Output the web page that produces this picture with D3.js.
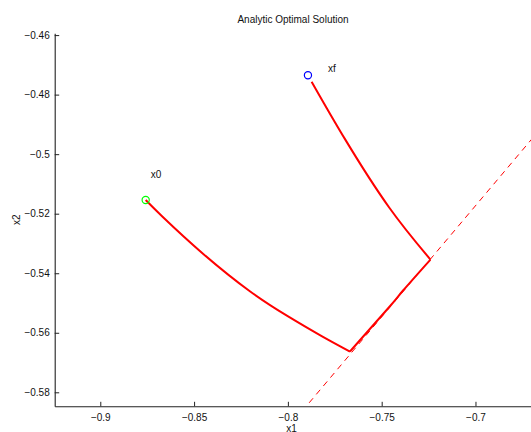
<!DOCTYPE html>
<html><head><meta charset="utf-8">
<script src="https://cdn.jsdelivr.net/npm/d3@7"></script>
<style>
html,body{margin:0;padding:0;background:#fff;overflow:hidden;}
text{font-family:"Liberation Sans",Arial,Helvetica,sans-serif;}
</style></head>
<body>
<svg id="chart" width="531" height="432"></svg>
<script>
// ---- data ----
const title = "Analytic Optimal Solution";
const xLabel = "x1", yLabel = "x2";
const xTicks = [-0.9, -0.85, -0.8, -0.75, -0.7];
const yTicks = [-0.58, -0.56, -0.54, -0.52, -0.5, -0.48, -0.46];
const xDomain = [-0.9243, -0.6704];
const yDomain = [-0.5847, -0.4594];
// arc from x0 to first switch
const arc1X = [-0.8758, -0.8668, -0.8451, -0.8199, -0.8001, -0.7820, -0.7669];
const arc1Y = [-0.5154, -0.5210, -0.5335, -0.5462, -0.5544, -0.5611, -0.5663];
// arc along switching line
const arc2X = [-0.7669, -0.7456, -0.7386, -0.7240];
const arc2Y = [-0.5663, -0.5511, -0.5458, -0.5354];
// arc to xf
const arc3X = [-0.7240, -0.7459, -0.7693, -0.7873];
const arc3Y = [-0.5354, -0.5180, -0.4952, -0.4757];
// switching line (dashed)
const switchX = [-0.80, -0.65];
const switchY = [-0.5920, -0.4800];
// start / final points
const startPt = {name: "x0", x: -0.8758, y: -0.5154, lx: -0.8731, ly: -0.5070};
const finalPt = {name: "xf", x: -0.7893, y: -0.4735, lx: -0.7786, ly: -0.4712};

// ---- layout ----
const L = 54.7, R = 531, T = 33.3, B = 406.3;
const svg = d3.select("#chart");
const x = d3.scaleLinear().domain(xDomain).range([L, R]);
const y = d3.scaleLinear().domain(yDomain).range([B, T]);
const fmt = d => d3.format("")(d).replace("-", "\u2212");

svg.append("defs").append("clipPath").attr("id","clip")
  .append("rect").attr("x", L).attr("y", T).attr("width", R - L).attr("height", B - T);

// axes
const xAxis = d3.axisBottom(x).tickValues(xTicks).tickFormat(fmt).tickSizeInner(-4.5).tickSizeOuter(0).tickPadding(8);
const yAxis = d3.axisLeft(y).tickValues(yTicks).tickFormat(fmt).tickSizeInner(-4.5).tickSizeOuter(0).tickPadding(5);
const gx = svg.append("g").attr("transform", `translate(0,${B})`).call(xAxis);
const gy = svg.append("g").attr("transform", `translate(${L},0)`).call(yAxis);
[gx, gy].forEach(g => {
  g.select(".domain").attr("stroke", "#222").attr("stroke-width", 1.1);
  g.selectAll(".tick line").attr("stroke", "#222");
  g.selectAll(".tick text").attr("fill", "#111").style("font-size", "10px").style("font-family", "'Liberation Sans',Arial,sans-serif");
});
gx.selectAll(".tick text").attr("dy", "0.71em");

// title & labels
svg.append("text").attr("x", 293).attr("y", 22.5).attr("text-anchor", "middle")
  .style("font-size", "10px").attr("fill", "#111").text(title);
svg.append("text").attr("x", 291.5).attr("y", 431.5).attr("text-anchor", "middle")
  .style("font-size", "10px").attr("fill", "#111").text(xLabel);
svg.append("text").attr("transform", `translate(20,${(T + B) / 2}) rotate(-90)`).attr("text-anchor", "middle")
  .style("font-size", "10px").attr("fill", "#111").text(yLabel);

const plot = svg.append("g").attr("clip-path", "url(#clip)");

// dashed switching line
plot.append("path")
  .attr("d", d3.line().x(d => x(d[0])).y(d => y(d[1]))(d3.zip(switchX, switchY)))
  .attr("fill", "none").attr("stroke", "#ff0000").attr("stroke-width", 1)
  .attr("stroke-dasharray", "6,5");

// trajectory arcs
const curve = d3.line().x(d => x(d[0])).y(d => y(d[1])).curve(d3.curveNatural);
[[arc1X, arc1Y], [arc2X, arc2Y], [arc3X, arc3Y]].forEach(([xs, ys]) => {
  plot.append("path").attr("d", curve(d3.zip(xs, ys)))
    .attr("fill", "none").attr("stroke", "#ff0000").attr("stroke-width", 2)
    .attr("stroke-linejoin", "round");
});

// endpoints
[[startPt, "#00ff00"], [finalPt, "#0000ff"]].forEach(([p, c]) => {
  plot.append("circle").attr("cx", x(p.x)).attr("cy", y(p.y)).attr("r", 3.6)
    .attr("fill", "none").attr("stroke", c).attr("stroke-width", 1.2);
  svg.append("text").attr("x", x(p.lx)).attr("y", y(p.ly)).attr("dy", "0.35em")
    .style("font-size", "10px").attr("fill", "#111").text(p.name);
});
</script>
</body></html>
